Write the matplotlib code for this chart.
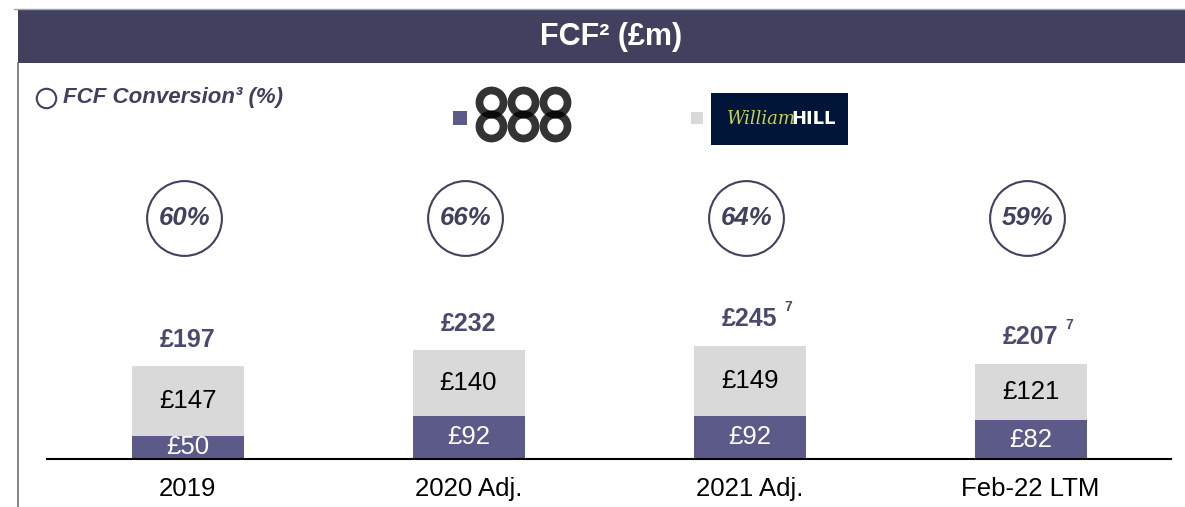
import numpy as np
import matplotlib.pyplot as plt
from matplotlib.patches import Rectangle
from matplotlib.lines import Line2D
import matplotlib.transforms as mtransforms

plt.rcParams['font.family'] = ['Liberation Sans', 'DejaVu Sans']

# dati
categories = ['2019', '2020 Adj.', '2021 Adj.', 'Feb-22 LTM']
fcf_888 = [50, 92, 92, 82]
fcf_wh = [147, 140, 149, 121]
totals = [197, 232, 245, 207]
total_notes = ['', '', '7', '7']
conversion = [60, 66, 64, 59]

col_888 = '#5B5A88'
col_wh = '#D9D9D9'
col_dark = '#41415F'
col_total = '#4A4A6E'

W, H = 1185, 507
fig = plt.figure(figsize=(W / 100, H / 100), dpi=100)

def fx(px):
    return px / W

def fy(py):
    return 1 - py / H

# intestazione
fig.add_artist(Rectangle((fx(18), fy(63)), 1 - fx(18), fy(10) - fy(63),
                         transform=fig.transFigure, color=col_dark, lw=0))
fig.add_artist(Line2D([fx(14), 1], [fy(9), fy(9)], transform=fig.transFigure,
                      color='#A0A0A8', lw=1))
fig.add_artist(Line2D([fx(18), fx(18)], [0, fy(63)], transform=fig.transFigure,
                      color='#6A6A7E', lw=1.2))
fig.text(fx(611), fy(37), 'FCF² (£m)', color='white', fontsize=22,
         fontweight='bold', ha='center', va='center')

# legenda
fig.add_artist(Line2D([fx(46)], [fy(98)], transform=fig.transFigure, marker='o',
                      markersize=14, markerfacecolor='white',
                      markeredgecolor=col_dark, markeredgewidth=1.5))
fig.text(fx(63), fy(98), 'FCF Conversion³ (%)', color=col_dark, fontsize=16,
         fontweight='bold', fontstyle='italic', ha='left', va='center')

# logo 888 (anelli sovrapposti)
fig.add_artist(Rectangle((fx(453), fy(125)), fx(14), fy(111) - fy(125),
                         transform=fig.transFigure, color=col_888, lw=0))
for cx in [491, 523, 555]:
    for cy in [102, 126]:
        fig.add_artist(Line2D([fx(cx)], [fy(cy)], transform=fig.transFigure,
                              marker='o', markersize=17.3, markerfacecolor='none',
                              markeredgecolor='black', markeredgewidth=5.6, alpha=0.8))

# logo William Hill
fig.add_artist(Rectangle((fx(691), fy(124)), fx(12), fy(112) - fy(124),
                         transform=fig.transFigure, color=col_wh, lw=0))
fig.add_artist(Rectangle((fx(711), fy(145)), fx(137), fy(93) - fy(145),
                         transform=fig.transFigure, color='#001538', lw=0))
fig.text(fx(761), fy(119), 'William', color='#C8D04A', fontsize=13,
         fontstyle='italic', family='DejaVu Serif', ha='center', va='center')
fig.text(fx(814), fy(119), 'HILL', color='white', fontsize=13,
         fontweight='bold', ha='center', va='center', family='Liberation Sans Narrow')

# grafico a barre
scale = 0.47  # px per £m
ax_bottom, ax_top = 459, 160
ax = fig.add_axes([fx(47), fy(ax_bottom), fx(1171) - fx(47), fy(ax_top) - fy(ax_bottom)])
ax.set_xlim(-0.5, 3.5)
ax.set_ylim(0, (ax_bottom - ax_top) / scale)
x = np.arange(len(categories))
bw = 112 / 281

ax.bar(x, fcf_888, width=bw, color=col_888)
ax.bar(x, fcf_wh, width=bw, bottom=fcf_888, color=col_wh)

for i in range(len(categories)):
    ax.text(x[i], fcf_888[i] / 2, f'£{fcf_888[i]}', color='white', fontsize=18.5,
            ha='center', va='center')
    ax.text(x[i], fcf_888[i] + fcf_wh[i] / 2, f'£{fcf_wh[i]}', color='black',
            fontsize=18.5, ha='center', va='center')
    top = fcf_888[i] + fcf_wh[i]
    ax.annotate(f'£{totals[i]}', (x[i], top), xytext=(0, 19), textcoords='offset points',
                color=col_total, fontsize=18, fontweight='bold', ha='center', va='center')
    if total_notes[i]:
        ax.annotate(total_notes[i], (x[i], top), xytext=(28, 28), textcoords='offset points',
                    color=col_total, fontsize=10, fontweight='bold', ha='center', va='center')

# cerchi conversione
trans = mtransforms.blended_transform_factory(ax.transData, fig.transFigure)
ax.scatter(x - 0.012, [fy(218)] * len(x), s=2900, facecolor='white', edgecolor=col_dark,
           linewidth=1.5, transform=trans, clip_on=False, zorder=3)
for i in range(len(categories)):
    ax.text(x[i] - 0.012, fy(218), f'{conversion[i]}%', transform=trans, color=col_dark,
            fontsize=18.5, fontweight='bold', fontstyle='italic', ha='center',
            va='center', zorder=4)

for s in ['top', 'right', 'left']:
    ax.spines[s].set_visible(False)
ax.spines['bottom'].set_color('black')
ax.spines['bottom'].set_linewidth(1.5)
ax.set_yticks([])
ax.set_xticks(x)
ax.set_xticklabels(categories, fontsize=18.5)
ax.tick_params(axis='x', length=0, pad=13)
ax.patch.set_visible(False)

fig.savefig('out.png', dpi=100)
